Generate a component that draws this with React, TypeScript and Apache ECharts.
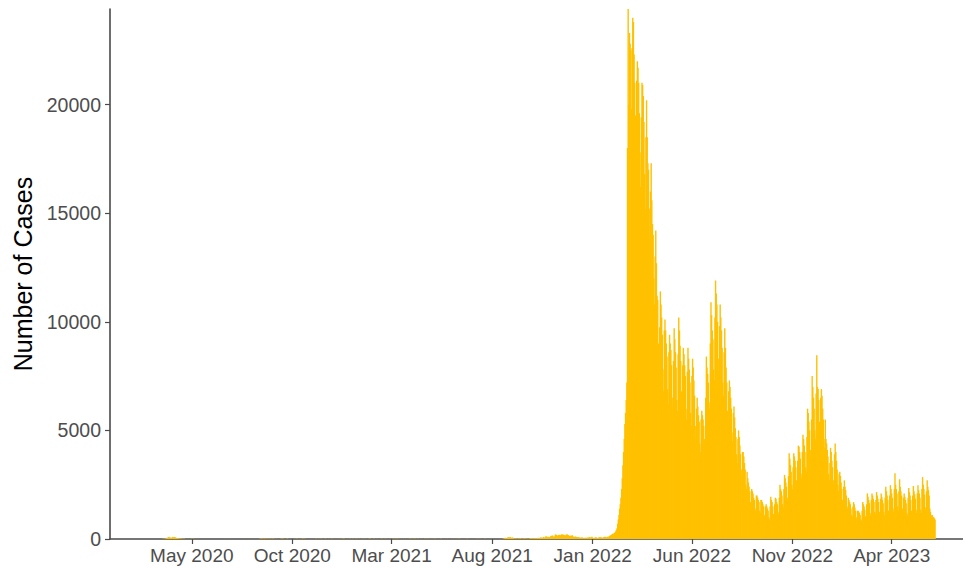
import React, { useEffect, useRef } from "react";
import * as echarts from "echarts";

// Axis range (daily categories) and data start
const AXIS_START = "2019-12-29";
const AXIS_END = "2023-07-18";
const DATA_START = "2020-02-26";

const tickDates = ["2020-05-01", "2020-10-01", "2021-03-01", "2021-08-01", "2022-01-01", "2022-06-01", "2022-11-01", "2023-04-01"];
const tickLabels = ["May 2020", "Oct 2020", "Mar 2021", "Aug 2021", "Jan 2022", "Jun 2022", "Nov 2022", "Apr 2023"];

const yTicks = [0, 5000, 10000, 15000, 20000];
const yMax = 24400;

// Daily case counts, 2020-02-26 .. 2020-12-31
const cases2020 = [
  0, 1, 0, 1,
  2, 0, 0, 1, 0, 1, 0, 0, 0, 0, 0, 1, 1, 1, 2, 4, 3, 8, 8, 11, 13, 14, 36, 40, 50, 78, 76, 83, 63, 58, 58,
  61, 89, 71, 82, 89, 67, 54, 50, 44, 29, 29, 18, 19, 17, 20, 15, 8, 13, 9, 12, 5, 5, 2, 3, 5, 5, 5, 3, 2, 3,
  6, 2, 6, 3, 2, 2, 1, 2, 3, 2, 3, 2, 3, 1, 2, 0, 1, 0, 1, 0, 1, 0, 0, 0, 1, 0, 0, 0, 0, 0, 0,
  0, 0, 0, 0, 0, 0, 0, 0, 0, 0, 0, 0, 0, 0, 0, 2, 1, 1, 2, 1, 4, 2, 1, 1, 1, 2, 1, 4, 2, 2,
  1, 2, 3, 1, 1, 3, 2, 1, 2, 2, 1, 1, 2, 1, 3, 1, 2, 1, 1, 2, 3, 1, 1, 2, 1, 2, 1, 2, 1, 2, 3,
  1, 1, 2, 3, 1, 1, 2, 3, 0, 1, 4, 7, 14, 13, 13, 8, 13, 6, 7, 6, 11, 5, 9, 12, 5, 14, 4, 12, 6, 9, 3,
  14, 5, 8, 2, 3, 4, 7, 5, 5, 2, 4, 2, 4, 7, 11, 9, 8, 3, 5, 5, 2, 3, 6, 6, 2, 3, 1, 3, 2, 2,
  2, 1, 2, 4, 3, 5, 2, 7, 4, 3, 2, 6, 4, 2, 4, 11, 6, 7, 3, 6, 3, 5, 2, 1, 2, 3, 4, 5, 3, 2, 4,
  2, 3, 5, 5, 3, 6, 2, 2, 4, 6, 4, 4, 2, 6, 3, 2, 4, 5, 3, 8, 2, 4, 5, 5, 6, 2, 3, 3, 4, 6,
  3, 5, 2, 6, 2, 4, 3, 5, 4, 5, 5, 2, 6, 5, 3, 4, 7, 4, 6, 3, 2, 5, 3, 6, 2, 2, 4, 6, 5, 2, 3,
];

// 2021-01-01 .. 2021-12-31
const cases2021 = [
  7, 4, 3, 2, 3, 6, 4, 8, 3, 2, 6, 3, 4, 5, 2, 5, 5, 3, 4, 6, 5, 2, 4, 3, 3, 6, 8, 4, 3, 2, 3,
  4, 6, 2, 3, 4, 7, 2, 1, 3, 1, 4, 5, 3, 6, 4, 3, 3, 5, 2, 6, 4, 2, 3, 1, 2, 7, 5, 4,
  2, 5, 6, 3, 4, 6, 3, 8, 4, 5, 6, 3, 4, 5, 2, 7, 3, 1, 5, 4, 5, 6, 5, 3, 2, 3, 4, 2, 6, 5, 4,
  3, 2, 7, 5, 4, 6, 2, 3, 4, 6, 3, 5, 4, 7, 2, 3, 4, 5, 2, 2, 6, 3, 4, 5, 7, 2, 4, 3, 5, 2,
  3, 5, 2, 4, 3, 6, 3, 2, 4, 5, 2, 3, 3, 2, 6, 3, 4, 2, 3, 2, 5, 3, 2, 4, 6, 3, 2, 3, 5, 2, 4,
  3, 2, 6, 4, 3, 2, 4, 5, 3, 2, 4, 6, 2, 3, 5, 3, 2, 4, 3, 2, 5, 4, 3, 6, 2, 3, 4, 5, 3, 2,
  4, 3, 2, 5, 3, 4, 2, 6, 3, 4, 5, 2, 3, 4, 2, 3, 5, 4, 2, 3, 6, 2, 4, 3, 2, 5, 3, 4, 2, 3, 4,
  3, 4, 2, 5, 3, 2, 4, 3, 2, 5, 3, 4, 2, 3, 4, 3, 10, 11, 21, 35, 53, 35, 41, 47, 83, 70, 68, 82, 83, 53, 49,
  75, 49, 28, 20, 20, 20, 21, 15, 13, 23, 20, 15, 33, 15, 12, 15, 15, 24, 23, 22, 14, 17, 15, 12, 15, 17, 10, 45, 17, 39,
  19, 32, 33, 27, 29, 39, 30, 36, 44, 60, 35, 43, 55, 71, 65, 43, 60, 94, 60, 60, 102, 129, 104, 80, 109, 79, 78, 92, 127, 150, 143,
  162, 118, 100, 112, 193, 206, 190, 125, 160, 185, 183, 201, 175, 173, 222, 194, 198, 200, 173, 172, 154, 205, 215, 178, 178, 145, 148, 135, 166, 142,
  172, 125, 99, 92, 98, 112, 90, 72, 86, 71, 90, 62, 49, 71, 55, 77, 47, 34, 53, 49, 62, 43, 60, 70, 33, 65, 93, 55, 65, 80, 100,
];

// 2022-01-01 .. 2022-12-31
const cases2022 = [
  60, 45, 40, 55, 70, 80, 65, 50, 45, 60, 75, 90, 85, 70, 55, 50, 70, 80, 95, 100, 80, 65, 90, 105, 110, 95,
  150, 160, 180, 200, 230, 250, 220, 280, 300,
  350, 420, 500, 700, 900, 1100, 1400, 1600, 1900, 2300, 2800, 3400,
  4000, 4600, 5300, 5800, 6400, 7200, 18000,
  24400, 20000, 23300, 22800, 22500, 19800, 22600,
  24000, 23800, 22300, 21000, 19500, 17800, 21100,
  22000, 21700, 21000, 19600, 17800, 16200, 19400,
  21000, 20900, 20400, 19200, 16800, 15200, 18500,
  20200, 18500, 17300, 17000, 15200, 13800, 16000,
  17300, 15600, 14500, 14000, 12000, 10800, 13000,
  14200, 12700, 11200, 11000, 9000, 8400, 9750,
  11400, 10800, 10200, 9400, 7800, 6800, 9600,
  10100, 9600, 9000, 8400, 6900, 6200, 8600,
  9400, 9000, 8700, 8000, 6500, 6000, 8200,
  9700, 9200, 8600, 7900, 6400, 5900, 8500,
  10200, 9600, 8900, 8200, 6800, 6100, 8000,
  8800, 8500, 8000, 7500, 6000, 5500, 7700,
  8800, 8300, 7800, 7200, 5800, 5200, 7500,
  8300, 7900, 7300, 6600, 5200, 4700, 6000,
  6500, 6100, 5700, 5400, 4400, 4000, 5500,
  5900, 5700, 5500, 5200, 4600, 4400, 6500,
  8400, 7900, 7600, 7200, 6300, 6000, 9000,
  10900, 10300, 9600, 9200, 7800, 7300, 10200,
  11900, 11300, 10800, 10000, 8300, 7700, 9800,
  10800, 10200, 9600, 8800, 7200, 6600, 8600,
  9700, 8800, 7900, 7200, 5900, 5400, 6800,
  7300, 7000, 6500, 6000, 4900, 4500, 5800,
  6100, 5600, 5100, 4700, 3900, 3500, 4600,
  5000, 4700, 4300, 3900, 3200, 2900, 4000,
  4000, 3800, 3500, 3200, 2500, 2300, 3100,
  2800, 2600, 2400, 2200, 1700, 1600, 2300,
  2200, 2100, 1900, 1800, 1400, 1300, 2000,
  2000, 1900, 1800, 1700, 1300, 1200, 1800,
  1800, 1700, 1600, 1500, 1100, 1000, 1500,
  1600, 1500, 1400, 1300, 1000, 900, 1500,
  1950, 1800, 1700, 1500, 1150, 1050, 1600,
  1900, 1850, 1700, 1600, 1250, 1150, 1900,
  2500, 2300, 2200, 2000, 1600, 1450, 2300,
  2950, 2800, 2600, 2400, 1900, 1750, 2900,
  3950, 3700, 3400, 3100, 2500, 2300, 3300,
  3950, 3800, 3600, 3300, 2700, 2500, 3600,
  4300, 4250, 4000, 3700, 3000, 2800, 4000,
  4800, 4600, 4300, 4000, 3300, 3100, 4700,
  6000, 5800, 5400, 5000, 4100, 3800, 5500,
  7500, 7000, 6500, 6000, 5000, 4600, 6700,
  8460, 7000, 6900, 6400, 5400, 5000, 6500,
  6900, 6600, 6000, 5500, 4600, 4200, 5500,
  4600, 4400, 4100, 3800, 3000, 2700, 3500,
  4200, 4000, 3600,
];

// 2023-01-01 .. 2023-06-06
const cases2023 = [
  3300, 2700, 2500, 3900,
  4400, 4000, 3600, 3200, 2500, 2200, 3000,
  3100, 2900, 2600, 2300, 1800, 1650, 2400,
  2700, 2400, 2250, 2000, 1500, 1400, 1900,
  1800, 1700, 1600, 1400, 1100, 1000, 1500,
  1700, 1600, 1450, 1300, 1000, 900, 1300,
  1300, 1250, 1200, 1100, 900, 850, 1300,
  1700, 1600, 1500, 1350, 1050, 950, 1600,
  2100, 1950, 1800, 1650, 1200, 1100, 1800,
  2100, 2000, 1850, 1700, 1250, 1150, 1800,
  2160, 2000, 1850, 1700, 1250, 1150, 1850,
  2100, 1950, 1800, 1650, 1250, 1100, 1900,
  2400, 2200, 2000, 1800, 1300, 1200, 2000,
  2480, 2300, 2100, 1900, 1400, 1250, 2300,
  3030, 2500, 2300, 2100, 1500, 1300, 2200,
  2750, 2400, 2200, 2000, 1400, 1250, 1900,
  2100, 1950, 1800, 1650, 1200, 1100, 1900,
  2350, 2150, 2000, 1800, 1300, 1150, 2000,
  2440, 2200, 2050, 1850, 1350, 1200, 2100,
  2480, 2250, 2100, 1900, 1350, 1200, 2300,
  2850, 2500, 2300, 2050, 1450, 1300, 2200,
  2700, 2400, 2250, 2000, 1400, 1250, 1100,
  1050, 1100, 1000, 1000, 950, 900,
];

const FONT = "'Liberation Sans', Arial, Helvetica, sans-serif";
const BAR_COLOR = "#FFC000";
const AXIS_COLOR = "#4a4a4a";
const LABEL_COLOR = "#4D4D4D";

function dayList(start: string, end: string): string[] {
  const out: string[] = [];
  const s = Date.parse(start + "T00:00:00Z");
  const e = Date.parse(end + "T00:00:00Z");
  for (let t = s; t <= e; t += 86400000) out.push(new Date(t).toISOString().slice(0, 10));
  return out;
}

export default function App() {
  const ref = useRef<HTMLDivElement>(null);

  useEffect(() => {
    if (!ref.current) return;
    const chart = echarts.init(ref.current, null, { renderer: "svg" });

    const categories = dayList(AXIS_START, AXIS_END);
    const values = [...cases2020, ...cases2021, ...cases2022, ...cases2023];
    const startIdx = categories.indexOf(DATA_START);
    const seriesData = categories.map((_, i) => {
      const j = i - startIdx;
      return j >= 0 && j < values.length ? values[j] : "-";
    });

    const isTick = (_i: number, v: string) => tickDates.indexOf(v) >= 0;

    chart.setOption({
      animation: false,
      grid: { left: 110, right: 0, top: 9, bottom: 29, containLabel: false, outerBoundsMode: "none" },
      xAxis: {
        type: "category",
        data: categories,
        boundaryGap: true,
        axisLine: { show: true, lineStyle: { color: AXIS_COLOR, width: 1.6 } },
        axisTick: { show: true, alignWithLabel: true, interval: isTick, length: 5, lineStyle: { color: AXIS_COLOR, width: 1.2 } },
        axisLabel: {
          show: true,
          interval: isTick,
          formatter: (v: string) => {
            const k = tickDates.indexOf(v);
            return k >= 0 ? tickLabels[k] : "";
          },
          color: LABEL_COLOR,
          fontSize: 19,
          fontFamily: FONT,
          margin: 7,
        },
        splitLine: { show: false },
      },
      yAxis: {
        type: "value",
        min: 0,
        max: yMax,
        name: "Number of Cases",
        nameLocation: "middle",
        nameGap: 74,
        nameTextStyle: { color: "#000", fontSize: 25, fontFamily: FONT },
        axisLine: { show: true, lineStyle: { color: AXIS_COLOR, width: 1.6 } },
        axisTick: { show: true, length: 5, customValues: yTicks, lineStyle: { color: AXIS_COLOR, width: 1.2 } },
        axisLabel: {
          customValues: yTicks,
          formatter: (v: number) => String(v),
          color: LABEL_COLOR,
          fontSize: 19.5,
          fontFamily: FONT,
          margin: 9,
        },
        splitLine: { show: false },
      },
      series: [
        {
          type: "bar",
          data: seriesData,
          barWidth: 1.4,
          itemStyle: { color: BAR_COLOR },
          emphasis: { disabled: true },
        },
      ],
    });

    return () => chart.dispose();
  }, []);

  return (
    <div
      ref={ref}
      style={{ position: "absolute", left: 0, top: 0, width: 963, height: 568, background: "#fff" }}
    />
  );
}
